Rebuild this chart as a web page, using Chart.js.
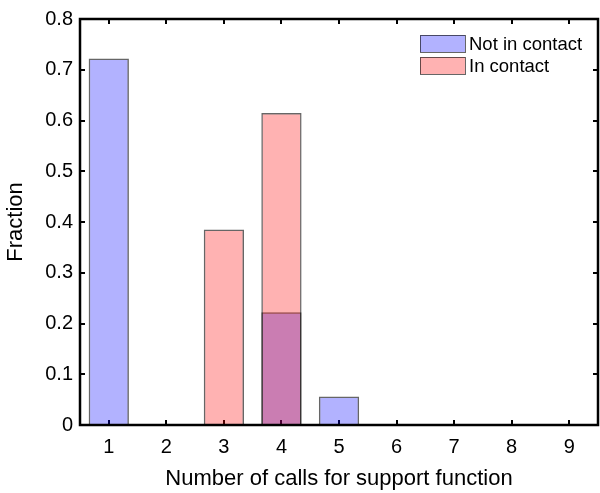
<!DOCTYPE html>
<html>
<head>
<meta charset="utf-8">
<script src="https://cdn.jsdelivr.net/npm/chart.js@4/dist/chart.umd.min.js"></script>
<style>
html,body{margin:0;padding:0;background:#fff;}
#wrap{width:600px;height:493px;position:relative;}
</style>
</head>
<body>
<div id="wrap"><canvas id="c" width="600" height="493"></canvas></div>
<script>
const categories = ['1','2','3','4','5','6','7','8','9'];
const notInContact = [0.722, null, null, 0.222, 0.056, null, null, null, null];
const inContact = [null, null, 0.385, 0.615, null, null, null, null, null];
const seriesNames = ['Not in contact', 'In contact'];
const yTicks = [0, 0.1, 0.2, 0.3, 0.4, 0.5, 0.6, 0.7, 0.8];

const FONT = "'Liberation Sans', Arial, sans-serif";

const boxPlugin = {
  id: 'boxPlugin',
  beforeDatasetsDraw(chart) {
    const {ctx, chartArea: a, scales: {x, y}} = chart;
    ctx.save();
    ctx.strokeStyle = '#000';
    ctx.lineWidth = 2;
    const L = 5;
    ctx.beginPath();
    for (let i = 0; i < categories.length; i++) {
      const px = Math.round(x.getPixelForValue(i));
      ctx.moveTo(px, a.bottom); ctx.lineTo(px, a.bottom - L);
      ctx.moveTo(px, a.top); ctx.lineTo(px, a.top + L);
    }
    yTicks.forEach(v => {
      const py = Math.round(y.getPixelForValue(v));
      ctx.moveTo(a.left, py); ctx.lineTo(a.left + L, py);
      ctx.moveTo(a.right, py); ctx.lineTo(a.right - L, py);
    });
    ctx.stroke();
    ctx.restore();
  },
  afterDatasetsDraw(chart) {
    const {ctx, chartArea: a} = chart;
    ctx.save();
    ctx.strokeStyle = '#000';
    ctx.lineWidth = 2.5;
    ctx.strokeRect(a.left, a.top, a.right - a.left, a.bottom - a.top);
    // legend
    const ds = chart.data.datasets;
    const bx = 420, bw = 45, bh = 17;
    const rows = [35, 57];
    ctx.font = "18.5px " + FONT;
    ctx.textBaseline = 'middle';
    ctx.textAlign = 'left';
    ds.forEach((d, i) => {
      const yy = rows[i];
      ctx.fillStyle = d.backgroundColor;
      ctx.fillRect(bx, yy, bw, bh);
      ctx.lineWidth = 1;
      ctx.strokeStyle = 'rgba(0,0,0,0.6)';
      ctx.strokeRect(bx + 0.5, yy + 0.5, bw, bh);
      ctx.fillStyle = '#000';
      ctx.fillText(d.label, bx + bw + 4, yy + bh / 2 + 1);
    });
    ctx.restore();
  }
};

new Chart(document.getElementById('c'), {
  type: 'bar',
  data: {
    labels: categories,
    datasets: [
      {
        label: seriesNames[0],
        data: notInContact,
        backgroundColor: 'rgba(0,0,255,0.3)',
        borderColor: 'rgba(0,0,0,0.6)',
        borderWidth: 1.5,
        grouped: false,
        order: 1,
        barPercentage: 0.7,
        categoryPercentage: 1.0
      },
      {
        label: seriesNames[1],
        data: inContact,
        backgroundColor: 'rgba(255,0,0,0.3)',
        borderColor: 'rgba(0,0,0,0.6)',
        borderWidth: 1.5,
        grouped: false,
        order: 0,
        barPercentage: 0.7,
        categoryPercentage: 1.0
      }
    ]
  },
  options: {
    responsive: false,
    animation: false,
    devicePixelRatio: 1,
    layout: {padding: {top: 19, right: 2, left: 0, bottom: 0}},
    plugins: {legend: {display: false}, tooltip: {enabled: false}},
    scales: {
      x: {
        grid: {display: false, drawTicks: false},
        border: {display: false},
        ticks: {color: '#000', font: {family: FONT, size: 20}, padding: 10, maxRotation: 0},
        title: {display: true, text: 'Number of calls for support function', color: '#000',
                font: {family: FONT, size: 22}, padding: {top: 0, bottom: 1}},
        afterFit(s) { s.height = 68; }
      },
      y: {
        min: 0, max: 0.8,
        grid: {display: false, drawTicks: false},
        border: {display: false},
        ticks: {stepSize: 0.1, color: '#000', font: {family: FONT, size: 20}, padding: 7},
        title: {display: true, text: 'Fraction', color: '#000',
                font: {family: FONT, size: 22}, padding: {top: 3, bottom: 0}},
        afterFit(s) { s.width = 80; }
      }
    }
  },
  plugins: [boxPlugin]
});
</script>
</body>
</html>
